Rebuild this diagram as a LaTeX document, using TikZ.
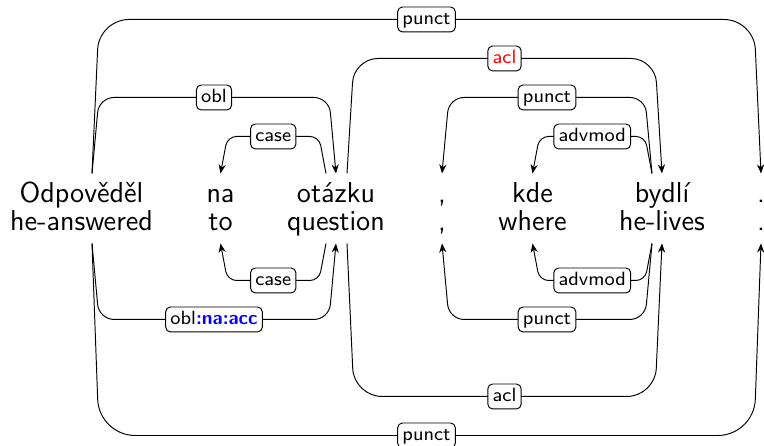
\documentclass[tikz,border=0pt]{standalone}
\usetikzlibrary{calc,arrows.meta}
\begin{document}
\begin{tikzpicture}[x=0.416667pt, y=-0.416667pt,
  word/.style={font=\fontsize{12}{14}\selectfont\sffamily, inner sep=0pt, anchor=base, text height=12.1pt, text depth=0pt},
  gloss/.style={font=\fontsize{12}{14}\selectfont\sffamily, inner sep=0pt, anchor=base, text height=8pt, text depth=5pt},
  lab/.style={font=\fontsize{8}{9.6}\selectfont\sffamily, fill=white, draw, rounded corners=2pt, inner xsep=2pt, inner ysep=1.6pt, text height=5.6pt, text depth=1.6pt},
  dep/.style={draw, line width=0.4pt, -{Stealth[length=3.8pt,width=3pt]}},
  r1/.style={rounded corners=3.75pt},
  r2/.style={rounded corners=6.25pt},
  r3/.style={rounded corners=10pt},
  r4/.style={rounded corners=12.5pt},
  r4b/.style={rounded corners=11.7pt},
  r5/.style={rounded corners=15pt},
]
\useasboundingbox (0,0) rectangle (764,446);
% words
\node[word] (w1) at (81.5,203) {Odpověděl};
\node[word] (w2) at (220.5,203) {na};
\node[word] (w3) at (336,203) {otázku};
\node[word] (w4) at (442,203) {,};
\node[word] (w5) at (532.5,203) {kde};
\node[word] (w6) at (662,203) {bydlí};
\node[word] (w7) at (761,203) {.};
% glosses
\node[gloss] (g1) at (81.5,231) {he-answered};
\node[gloss] (g2) at (220.5,231) {to};
\node[gloss] (g3) at (336,231) {question};
\node[gloss] (g4) at (442,231) {,};
\node[gloss] (g5) at (532.5,231) {where};
\node[gloss] (g6) at (662,231) {he-lives};
\node[gloss] (g7) at (761,231) {.};
% top edges
\draw[dep, r4] ($(w1.north)+(10.5,0)$) -- ($(w1.north)+(17.5,-154)$) -- node[lab] {punct} ($(w7.north)+(-7,-154)$) -- (w7.north);
\draw[dep, r2] ($(w1.north)+(10.5,0)$) -- ($(w1.north)+(17.5,-76)$) -- node[lab] {obl} ($(w3.north)+(-7,-76)$) -- (w3.north);
\draw[dep, r1] ($(w3.north)+(-10,0)$) -- ($(w3.north)+(-17,-37)$) -- node[lab] {case} ($(w2.north)+(7,-37)$) -- (w2.north);
\draw[dep, r3] ($(w3.north)+(11,0)$) -- ($(w3.north)+(18,-115)$) -- node[lab, text=red] {acl} ($(w6.north)+(-7,-115)$) -- (w6.north);
\draw[dep, r2] ($(w6.north)+(-10,0)$) -- ($(w6.north)+(-17,-76)$) -- node[lab] {punct} ($(w4.north)+(7,-76)$) -- (w4.north);
\draw[dep, r1] ($(w6.north)+(-10,0)$) -- ($(w6.north)+(-17,-37)$) -- node[lab] {advmod} ($(w5.north)+(7,-37)$) -- (w5.north);
% bottom edges
\draw[dep, r1] ($(g3.south)+(-10,0)$) -- ($(g3.south)+(-17,37)$) -- node[lab] {case} ($(g2.south)+(7,37)$) -- (g2.south);
\draw[dep, r2] ($(g1.south)+(10.5,0)$) -- ($(g1.south)+(17.5,76)$) -- node[lab] {obl\textcolor{blue}{\bfseries :na:acc}} ($(g3.south)+(-7,76)$) -- (g3.south);
\draw[dep, r4b] ($(g3.south)+(11,0)$) -- ($(g3.south)+(18,153)$) -- node[lab] {acl} ($(g6.south)+(-7,153)$) -- (g6.south);
\draw[dep, r5] ($(g1.south)+(10.5,0)$) -- ($(g1.south)+(17.5,192)$) -- node[lab] {punct} ($(g7.south)+(-7,192)$) -- (g7.south);
\draw[dep, r1] ($(g6.south)+(-10,0)$) -- ($(g6.south)+(-17,37)$) -- node[lab] {advmod} ($(g5.south)+(7,37)$) -- (g5.south);
\draw[dep, r2] ($(g6.south)+(-10,0)$) -- ($(g6.south)+(-17,76)$) -- node[lab] {punct} ($(g4.south)+(7,76)$) -- (g4.south);
\end{tikzpicture}
\end{document}
